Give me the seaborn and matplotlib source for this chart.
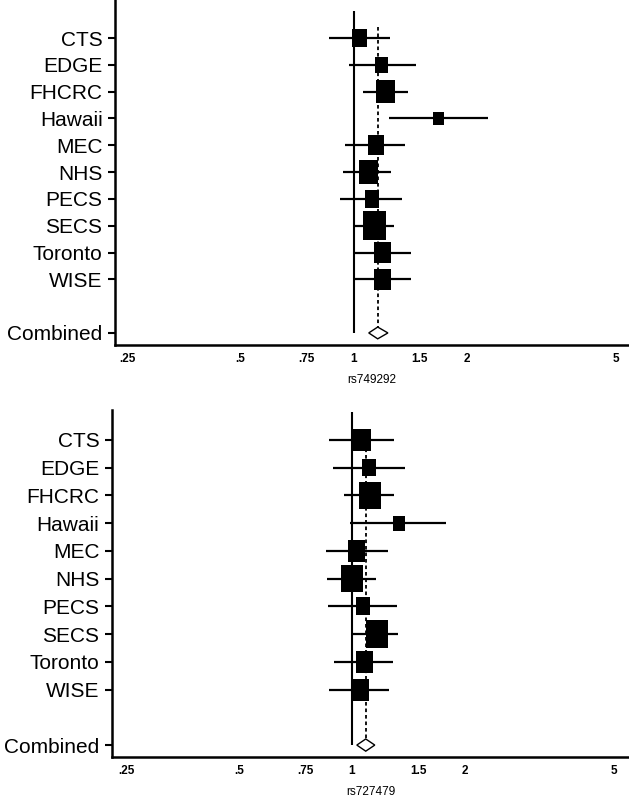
import matplotlib
matplotlib.use("Agg")
import matplotlib.pyplot as plt
import seaborn as sns
import numpy as np
import pandas as pd

studies = ["CTS", "EDGE", "FHCRC", "Hawaii", "MEC", "NHS", "PECS", "SECS", "Toronto", "WISE"]

# rs749292
or_749 = [1.04, 1.19, 1.22, 1.685, 1.145, 1.095, 1.12, 1.135, 1.195, 1.195]
lo_749 = [0.86, 0.97, 1.06, 1.24, 0.947, 0.94, 0.92, 1.00, 1.005, 1.005]
hi_749 = [1.25, 1.47, 1.40, 2.28, 1.37, 1.26, 1.35, 1.28, 1.42, 1.42]
w_749 = [8.0, 6.0, 12.8, 4.3, 9.1, 12.8, 8.0, 18.7, 10.2, 10.2]
comb_749 = [1.16, 1.098, 1.235]  # estimate, lower, upper

# rs727479
or_727 = [1.06, 1.112, 1.115, 1.335, 1.03, 0.998, 1.069, 1.163, 1.08, 1.05]
lo_727 = [0.866, 0.888, 0.952, 0.99, 0.85, 0.86, 0.862, 1.00, 0.897, 0.866]
hi_727 = [1.29, 1.386, 1.29, 1.785, 1.246, 1.16, 1.318, 1.326, 1.287, 1.255]
w_727 = [10.1, 6.1, 15.0, 4.5, 9.0, 15.0, 6.5, 15.0, 9.0, 9.7]
comb_727 = [1.088, 1.03, 1.15]

xticks = [0.25, 0.5, 0.75, 1, 1.5, 2, 5]
xticklabels = [".25", ".5", ".75", "1", "1.5", "2", "5"]

sns.set_style("white")
plt.rcParams['font.family'] = ['Liberation Sans', 'DejaVu Sans']
plt.rcParams['text.color'] = 'black'
plt.rcParams['axes.labelcolor'] = 'black'
plt.rcParams['xtick.color'] = 'black'
plt.rcParams['ytick.color'] = 'black'

# tall-ish box marker like the original
box = [(-0.4, -0.5), (0.4, -0.5), (0.4, 0.5), (-0.4, 0.5), (-0.4, -0.5)]


def forest(ax, est, lo, hi, w, comb, title, box_px, xlim, ylim):
    pos = np.arange(1, len(studies) + 1)
    comb_pos = len(studies) + 2
    df = pd.DataFrame({"study": studies, "est": est, "lo": lo, "hi": hi,
                       "w": w, "pos": pos})

    # null line and combined estimate line
    ax.vlines(1, 0, comb_pos, color="black", lw=1.5, zorder=1)
    ax.vlines(comb[0], 0.6, comb_pos - 0.22, color="black", lw=1.3,
              linestyles=(0, (2, 1.6)), zorder=1)

    ax.hlines(df["pos"], df["lo"], df["hi"], color="black", lw=1.6, zorder=2)
    smax = (box_px * 0.72) ** 2
    sns.scatterplot(data=df, x="est", y="pos", size="w", sizes=(0, smax),
                    size_norm=(0, max(w)), marker=box, color="black",
                    linewidth=0, legend=False, ax=ax, zorder=3)

    h = 0.22
    ax.fill([comb[1], comb[0], comb[2], comb[0]],
            [comb_pos, comb_pos - h, comb_pos, comb_pos + h],
            facecolor="white", edgecolor="black", lw=1.0, zorder=4)

    ax.set_xscale("log")
    ax.set_xlim(*xlim)
    ax.set_ylim(*ylim)
    ax.set_xticks(xticks)
    ax.set_xticklabels(xticklabels, fontsize=8.5, fontweight="bold")
    ax.minorticks_off()
    ax.set_yticks(list(pos) + [comb_pos])
    ax.set_yticklabels(studies + ["Combined"], fontsize=15)
    ax.tick_params(axis="y", left=True, length=5, width=1.5, pad=4,
                   color="black", labelcolor="black")
    ax.tick_params(axis="x", bottom=False, length=0, pad=6, labelcolor="black")
    ax.set_xlabel(title, fontsize=8.5, labelpad=6, color="black")
    ax.set_ylabel("")
    for s in ["top", "right"]:
        ax.spines[s].set_visible(False)
    for s in ["left", "bottom"]:
        ax.spines[s].set_linewidth(1.8)
        ax.spines[s].set_color("black")


fig = plt.figure(figsize=(6.29, 8), dpi=100)
ax1 = fig.add_axes([115 / 629, 1 - 345 / 800, 1 - 115 / 629, 345 / 800])
ax2 = fig.add_axes([112 / 629, 1 - 757 / 800, 1 - 112 / 629, (757 - 410) / 800])

forest(ax1, or_749, lo_749, hi_749, w_749, comb_749, "rs749292", 28.5,
       (0.2315, 5.42), (12.45, -0.42))
forest(ax2, or_727, lo_727, hi_727, w_727, comb_727, "rs727479", 27.5,
       (0.2294, 5.47), (12.43, -0.08))

fig.savefig("out.png", dpi=100)
